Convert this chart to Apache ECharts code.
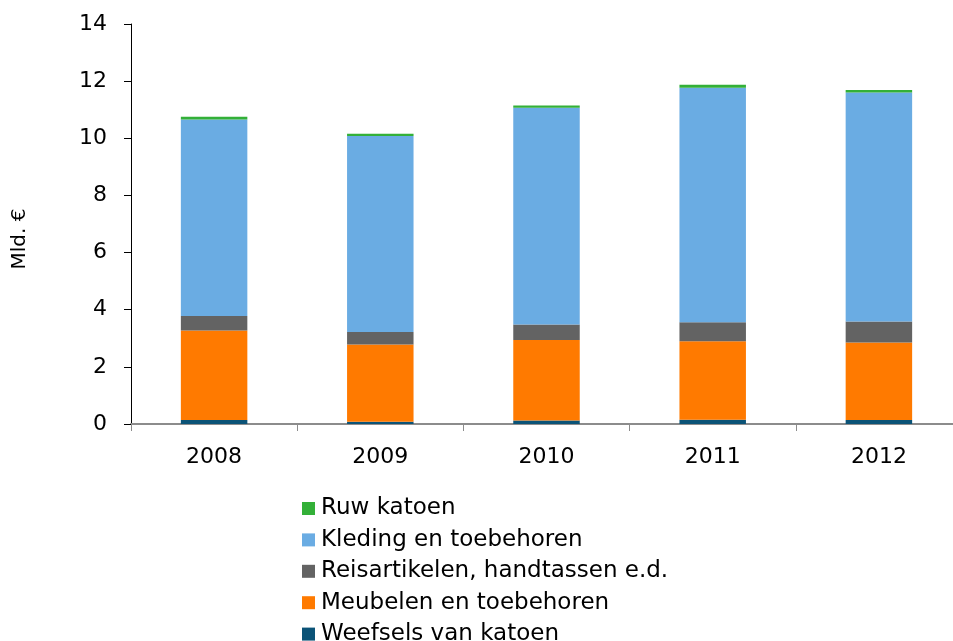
<!DOCTYPE html>
<html>
<head>
<meta charset="utf-8">
<script src="https://cdn.jsdelivr.net/npm/echarts@6/dist/echarts.min.js"></script>
<style>
  html, body { margin: 0; padding: 0; background: #fff; overflow: hidden; }
  #chart { width: 953px; height: 680px; }
</style>
</head>
<body>
<div id="chart"></div>
<script>
// jaren op de x-as
const years = ['2008', '2009', '2010', '2011', '2012'];

// waarden in mld. euro, van onder naar boven gestapeld
const weefsels = [0.14, 0.08, 0.12, 0.15, 0.14];
const meubelen = [3.13, 2.70, 2.82, 2.75, 2.71];
const reisartikelen = [0.51, 0.44, 0.54, 0.66, 0.74];
const kleding = [6.88, 6.86, 7.59, 8.21, 8.01];
const ruwKatoen = [0.09, 0.08, 0.08, 0.10, 0.09];

const yTicks = [0, 2, 4, 6, 8, 10, 12, 14];

const font = 'DejaVu Sans, Verdana, sans-serif';

const chart = echarts.init(document.getElementById('chart'));

function bar(name, data, color) {
    return {
        name: name,
        type: 'bar',
        stack: 'totaal',
        data: data,
        barWidth: '40%',
        itemStyle: { color: color },
        emphasis: { disabled: true }
    };
}

const option = {
    animation: false,
    backgroundColor: '#fff',
    textStyle: { fontFamily: font },
    // de x-as loopt in het origineel door tot voorbij de rand
    grid: { left: 131, width: 831, top: 24, height: 400, containLabel: false, outerBoundsMode: 'none' },
    legend: {
        orient: 'vertical',
        left: 302,
        top: 497,
        padding: 0,
        itemWidth: 13,
        itemHeight: 13,
        itemGap: 8.4,
        icon: 'rect',
        textStyle: { fontSize: 23, color: '#000', fontFamily: font, padding: [0, 0, 0, 1] },
        data: ['Ruw katoen', 'Kleding en toebehoren', 'Reisartikelen, handtassen e.d.', 'Meubelen en toebehoren', 'Weefsels van katoen']
    },
    xAxis: {
        type: 'category',
        data: years,
        boundaryGap: true,
        axisLine: { lineStyle: { color: '#8c8c8c', width: 2 } },
        axisTick: { show: true, length: 7, lineStyle: { color: '#8c8c8c', width: 1 } },
        axisLabel: { fontSize: 22, color: '#000', margin: 22, fontFamily: font },
        splitLine: { show: false }
    },
    yAxis: {
        type: 'value',
        min: yTicks[0],
        max: yTicks[yTicks.length - 1],
        interval: 2,
        name: 'Mld. €',
        nameLocation: 'middle',
        nameGap: 101,
        nameRotate: 90,
        nameTextStyle: { fontSize: 20, color: '#000', fontFamily: font, padding: [0, 30, 0, 0] },
        axisLine: { show: true, lineStyle: { color: '#000', width: 1 } },
        axisTick: { show: true, length: 7, inside: false, lineStyle: { color: '#000' } },
        axisLabel: { fontSize: 22, color: '#000', margin: 24, fontFamily: font },
        splitLine: { show: false }
    },
    series: [
        bar('Weefsels van katoen', weefsels, '#0b5377'),
        bar('Meubelen en toebehoren', meubelen, '#ff7a00'),
        bar('Reisartikelen, handtassen e.d.', reisartikelen, '#636363'),
        bar('Kleding en toebehoren', kleding, '#6aace3'),
        bar('Ruw katoen', ruwKatoen, '#33b038')
    ]
};

chart.setOption(option);
</script>
</body>
</html>
